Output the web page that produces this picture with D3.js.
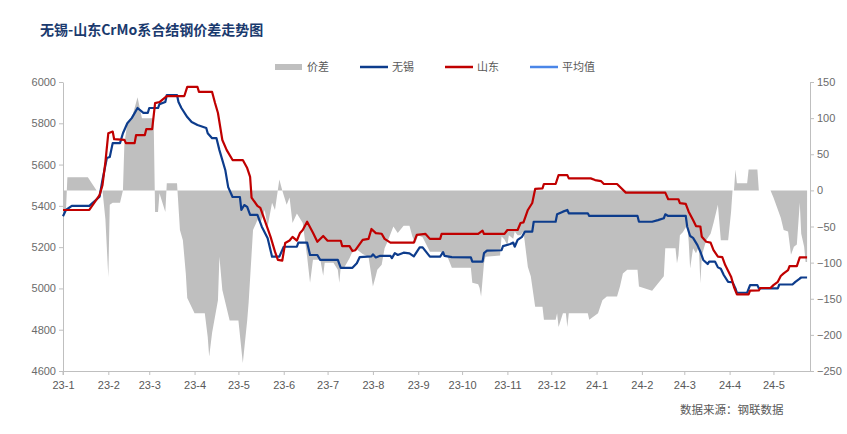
<!DOCTYPE html>
<html>
<head>
<meta charset="utf-8">
<script src="https://cdn.jsdelivr.net/npm/d3@7"></script>
<style>
  body { margin: 0; background: #fff; }
  svg { display: block; font-family: "Liberation Sans", Arial, sans-serif; }
  .tickText text { font-size: 11px; fill: #6b6b6b; }
  .cjk { font-family: "Noto Sans CJK SC", sans-serif; }
</style>
</head>
<body>
<div id="chart"></div>
<script>
//dates + values, one list per series
var wuxiData = [["2023-01-01",5350],["2023-01-03",5380],["2023-01-07",5400],["2023-01-19",5400],["2023-01-26",5444],["2023-01-28",5525],["2023-01-31",5632],["2023-02-02",5637],["2023-02-04",5704],["2023-02-09",5704],["2023-02-11",5752],["2023-02-14",5800],["2023-02-17",5825],["2023-02-19",5849],["2023-02-21",5874],["2023-02-25",5850],["2023-02-28",5850],["2023-03-01",5874],["2023-03-07",5874],["2023-03-08",5893],["2023-03-12",5903],["2023-03-13",5937],["2023-03-20",5937],["2023-03-21",5903],["2023-03-23",5874],["2023-03-27",5830],["2023-03-30",5806],["2023-04-03",5792],["2023-04-09",5777],["2023-04-10",5752],["2023-04-13",5728],["2023-04-16",5728],["2023-04-18",5670],["2023-04-22",5574],["2023-04-24",5491],["2023-04-27",5443],["2023-05-02",5443],["2023-05-03",5380],["2023-05-05",5404],["2023-05-07",5395],["2023-05-09",5356],["2023-05-14",5356],["2023-05-17",5299],["2023-05-21",5243],["2023-05-24",5154],["2023-05-29",5154],["2023-06-01",5202],["2023-06-10",5202],["2023-06-11",5222],["2023-06-17",5222],["2023-06-19",5162],["2023-06-24",5162],["2023-06-26",5138],["2023-07-08",5138],["2023-07-10",5100],["2023-07-18",5100],["2023-07-21",5122],["2023-07-23",5152],["2023-07-31",5155],["2023-08-01",5165],["2023-08-03",5150],["2023-08-06",5158],["2023-08-13",5158],["2023-08-14",5147],["2023-08-16",5171],["2023-08-18",5162],["2023-08-22",5173],["2023-08-26",5170],["2023-08-29",5155],["2023-09-02",5199],["2023-09-04",5199],["2023-09-09",5154],["2023-09-16",5154],["2023-09-18",5176],["2023-09-19",5158],["2023-09-24",5152],["2023-10-07",5150],["2023-10-08",5130],["2023-10-15",5130],["2023-10-16",5171],["2023-10-18",5183],["2023-10-28",5185],["2023-10-29",5205],["2023-11-03",5215],["2023-11-05",5222],["2023-11-06",5202],["2023-11-08",5235],["2023-11-11",5250],["2023-11-13",5275],["2023-11-18",5275],["2023-11-19",5323],["2023-12-04",5323],["2023-12-05",5359],["2023-12-09",5372],["2023-12-12",5380],["2023-12-13",5364],["2023-12-26",5364],["2023-12-27",5351],["2024-01-29",5351],["2024-01-30",5323],["2024-02-08",5323],["2024-02-12",5331],["2024-02-16",5340],["2024-02-17",5359],["2024-02-19",5351],["2024-03-02",5351],["2024-03-03",5299],["2024-03-05",5254],["2024-03-07",5245],["2024-03-10",5210],["2024-03-12",5178],["2024-03-14",5138],["2024-03-17",5118],["2024-03-18",5130],["2024-03-22",5130],["2024-03-24",5102],["2024-03-26",5095],["2024-03-28",5065],["2024-03-31",5032],["2024-04-03",5030],["2024-04-05",5000],["2024-04-06",4979],["2024-04-13",4979],["2024-04-15",5016],["2024-04-20",5016],["2024-04-21",5000],["2024-05-04",5000],["2024-05-05",5019],["2024-05-14",5019],["2024-05-16",5032],["2024-05-19",5048],["2024-05-20",5053],["2024-05-24",5053]];

var shandongData = [["2023-01-01",5380],["2023-01-19",5380],["2023-01-26",5452],["2023-01-28",5500],["2023-01-30",5612],["2023-02-01",5752],["2023-02-04",5760],["2023-02-05",5723],["2023-02-12",5720],["2023-02-13",5704],["2023-02-19",5704],["2023-02-20",5743],["2023-02-26",5743],["2023-02-27",5772],["2023-03-03",5772],["2023-03-05",5898],["2023-03-08",5903],["2023-03-13",5932],["2023-03-25",5932],["2023-03-27",5976],["2023-04-03",5976],["2023-04-04",5952],["2023-04-13",5952],["2023-04-15",5898],["2023-04-17",5850],["2023-04-20",5719],["2023-04-23",5670],["2023-04-27",5622],["2023-05-04",5622],["2023-05-07",5583],["2023-05-09",5540],["2023-05-10",5440],["2023-05-14",5400],["2023-05-16",5390],["2023-05-18",5350],["2023-05-23",5250],["2023-05-26",5178],["2023-05-28",5138],["2023-05-31",5135],["2023-06-02",5220],["2023-06-05",5232],["2023-06-07",5250],["2023-06-10",5232],["2023-06-12",5267],["2023-06-14",5283],["2023-06-17",5323],["2023-06-21",5270],["2023-06-24",5226],["2023-06-28",5254],["2023-07-01",5231],["2023-07-10",5231],["2023-07-11",5205],["2023-07-16",5205],["2023-07-18",5181],["2023-07-20",5185],["2023-07-25",5235],["2023-07-29",5240],["2023-07-31",5288],["2023-08-03",5268],["2023-08-07",5265],["2023-08-09",5240],["2023-08-13",5222],["2023-08-29",5222],["2023-08-31",5259],["2023-09-06",5264],["2023-09-09",5240],["2023-09-16",5240],["2023-09-17",5264],["2023-10-12",5264],["2023-10-15",5280],["2023-10-16",5264],["2023-10-30",5264],["2023-11-01",5283],["2023-11-08",5283],["2023-11-10",5317],["2023-11-12",5320],["2023-11-15",5380],["2023-11-18",5414],["2023-11-20",5482],["2023-11-25",5485],["2023-11-26",5506],["2023-12-04",5506],["2023-12-06",5549],["2023-12-12",5549],["2023-12-13",5533],["2023-12-28",5533],["2023-12-31",5525],["2024-01-04",5520],["2024-01-06",5506],["2024-01-15",5506],["2024-01-21",5464],["2024-02-17",5464],["2024-02-19",5432],["2024-02-26",5432],["2024-02-27",5413],["2024-03-02",5410],["2024-03-04",5372],["2024-03-07",5331],["2024-03-09",5302],["2024-03-12",5300],["2024-03-13",5250],["2024-03-16",5226],["2024-03-19",5222],["2024-03-21",5186],["2024-03-24",5154],["2024-03-27",5152],["2024-03-29",5113],["2024-04-02",5057],["2024-04-04",5007],["2024-04-06",4971],["2024-04-14",4971],["2024-04-15",4989],["2024-04-21",4990],["2024-04-22",5002],["2024-04-29",5002],["2024-05-01",5016],["2024-05-04",5032],["2024-05-06",5060],["2024-05-08",5073],["2024-05-11",5089],["2024-05-12",5108],["2024-05-17",5108],["2024-05-19",5150],["2024-05-24",5150]];

var spreadData = [["2023-01-01",-30],["2023-01-03",-30],["2023-01-04",18],["2023-01-18",18],["2023-01-24",0],["2023-01-28",0],["2023-01-30",-40],["2023-02-01",-120],["2023-02-02",-20],["2023-02-04",-17],["2023-02-09",-17],["2023-02-11",0],["2023-02-12",65],["2023-02-14",93],["2023-02-17",100],["2023-02-19",114],["2023-02-21",129],["2023-02-24",100],["2023-03-04",100],["2023-03-05",-30],["2023-03-07",-30],["2023-03-08",-4],["2023-03-12",-30],["2023-03-13",10],["2023-03-20",10],["2023-03-22",-55],["2023-03-24",-69],["2023-03-26",-115],["2023-03-27",-149],["2023-04-01",-170],["2023-04-08",-170],["2023-04-10",-203],["2023-04-11",-230],["2023-04-13",-197],["2023-04-17",-152],["2023-04-18",-92],["2023-04-20",-138],["2023-04-25",-180],["2023-05-01",-180],["2023-05-04",-239],["2023-05-07",-180],["2023-05-08",-155],["2023-05-11",-55],["2023-05-14",-41],["2023-05-16",-45],["2023-05-19",-27],["2023-05-21",-50],["2023-05-24",-17],["2023-05-26",-27],["2023-05-29",15],["2023-05-31",0],["2023-06-03",-20],["2023-06-05",-10],["2023-06-07",-45],["2023-06-10",-32],["2023-06-14",-45],["2023-06-17",-92],["2023-06-19",-128],["2023-06-21",-96],["2023-06-26",-96],["2023-06-28",-118],["2023-06-29",-100],["2023-07-05",-100],["2023-07-08",-110],["2023-07-09",-128],["2023-07-10",-106],["2023-07-12",-108],["2023-07-16",-94],["2023-07-18",-85],["2023-07-21",-82],["2023-07-25",-88],["2023-07-29",-92],["2023-07-31",-119],["2023-08-01",-133],["2023-08-03",-118],["2023-08-04",-110],["2023-08-07",-103],["2023-08-09",-80],["2023-08-11",-71],["2023-08-15",-50],["2023-08-18",-59],["2023-08-22",-49],["2023-08-26",-49],["2023-08-28",-64],["2023-08-30",-73],["2023-09-01",-62],["2023-09-04",-65],["2023-09-09",-85],["2023-09-16",-85],["2023-09-18",-88],["2023-09-21",-92],["2023-09-24",-107],["2023-10-07",-107],["2023-10-08",-128],["2023-10-12",-130],["2023-10-13",-135],["2023-10-14",-147],["2023-10-16",-101],["2023-10-17",-92],["2023-10-27",-90],["2023-10-28",-64],["2023-10-30",-68],["2023-11-01",-76],["2023-11-02",-62],["2023-11-05",-67],["2023-11-06",-57],["2023-11-08",-62],["2023-11-10",-62],["2023-11-12",-57],["2023-11-15",-106],["2023-11-17",-119],["2023-11-20",-161],["2023-11-25",-161],["2023-11-26",-179],["2023-12-04",-179],["2023-12-05",-170],["2023-12-06",-189],["2023-12-09",-170],["2023-12-11",-170],["2023-12-12",-189],["2023-12-13",-170],["2023-12-26",-170],["2023-12-27",-179],["2024-01-02",-170],["2024-01-05",-152],["2024-01-08",-147],["2024-01-15",-147],["2024-01-17",-133],["2024-01-19",-115],["2024-01-22",-110],["2024-01-29",-110],["2024-01-30",-133],["2024-02-08",-139],["2024-02-16",-119],["2024-02-17",-80],["2024-02-24",-80],["2024-02-25",-101],["2024-02-26",-90],["2024-02-27",-62],["2024-02-29",-58],["2024-03-03",-48],["2024-03-04",-70],["2024-03-05",-108],["2024-03-07",-80],["2024-03-09",-87],["2024-03-11",-78],["2024-03-12",-129],["2024-03-13",-90],["2024-03-16",-69],["2024-03-19",-60],["2024-03-21",-45],["2024-03-24",-20],["2024-03-26",-69],["2024-03-31",-69],["2024-04-02",-30],["2024-04-03",0],["2024-04-04",0],["2024-04-05",29],["2024-04-06",10],["2024-04-13",10],["2024-04-14",29],["2024-04-20",29],["2024-04-21",0],["2024-04-29",0],["2024-05-01",-10],["2024-05-06",-38],["2024-05-08",-55],["2024-05-11",-57],["2024-05-12",-73],["2024-05-13",-89],["2024-05-15",-78],["2024-05-17",-75],["2024-05-19",-17],["2024-05-20",-60],["2024-05-22",-78],["2024-05-23",-99],["2024-05-24",-99]];

var leftTicks = [4600, 4800, 5000, 5200, 5400, 5600, 5800, 6000];
var rightTicks = [-250, -200, -150, -100, -50, 0, 50, 100, 150];
var legendNames = ["价差", "无锡", "山东", "平均值"];
var legendColors = ["#bfbfbf", "#0d3c8c", "#c00000", "#4a86e8"];

var svgWidth = 847;
var svgHeight = 434;
var plot = { left: 63, right: 810, top: 82, bottom: 371 };

var parseDate = d3.timeParse("%Y-%m-%d");
function toPoints(arr) {
  return arr.map(d => ({ date: parseDate(d[0]), value: d[1] }));
}
var wuxi = toPoints(wuxiData);
var shandong = toPoints(shandongData);
var spread = toPoints(spreadData);

var svg = d3.select("#chart")
  .append("svg")
  .attr("width", svgWidth)
  .attr("height", svgHeight);

//scales
var xScale = d3.scaleTime()
  .domain([new Date(2023, 0, 1), new Date(2024, 4, 26)])
  .range([plot.left, plot.right]);

var yLeft = d3.scaleLinear()
  .domain([4600, 6000])
  .range([plot.bottom, plot.top]);

var yRight = d3.scaleLinear()
  .domain([-250, 150])
  .range([plot.bottom, plot.top]);

//spread area (behind the lines)
var area = d3.area()
  .x(d => xScale(d.date))
  .y0(yRight(0))
  .y1(d => yRight(d.value));

svg.append("path")
  .datum(spread)
  .attr("fill", "#bfbfbf")
  .attr("d", area);

//axes
var monthTicks = d3.timeMonth.range(new Date(2023, 0, 1), new Date(2024, 4, 2));

var bottomAxis = d3.axisBottom(xScale)
  .tickValues(monthTicks)
  .tickFormat(d3.timeFormat("%y-%-m"))
  .tickSize(4)
  .tickSizeOuter(0)
  .tickPadding(6);

var leftAxis = d3.axisLeft(yLeft)
  .tickValues(leftTicks)
  .tickFormat(d3.format("d"))
  .tickSize(4)
  .tickSizeOuter(0)
  .tickPadding(3);

var rightAxis = d3.axisRight(yRight)
  .tickValues(rightTicks)
  .tickSize(4)
  .tickSizeOuter(0)
  .tickPadding(3);

var gx = svg.append("g")
  .attr("class", "tickText")
  .attr("transform", `translate(0, ${plot.bottom})`)
  .call(bottomAxis);

var gl = svg.append("g")
  .attr("class", "tickText")
  .attr("transform", `translate(${plot.left}, 0)`)
  .call(leftAxis);

var gr = svg.append("g")
  .attr("class", "tickText")
  .attr("transform", `translate(${plot.right}, 0)`)
  .call(rightAxis);

[gx, gl, gr].forEach(g => {
  g.select(".domain").attr("stroke", "#bfbfbf");
  g.selectAll(".tick line").attr("stroke", "#bfbfbf");
  g.selectAll("text").style("font-family", "'Liberation Sans', Arial, sans-serif");
});
gx.selectAll("text").style("fill", "#595959");

//left axis runs a little past the bottom axis, like the original
gl.append("line")
  .attr("x1", 0).attr("x2", 0)
  .attr("y1", plot.bottom).attr("y2", plot.bottom + 4)
  .attr("stroke", "#bfbfbf");

//price lines
var line = d3.line()
  .x(d => xScale(d.date))
  .y(d => yLeft(d.value));

svg.append("path")
  .datum(wuxi)
  .attr("fill", "none")
  .attr("stroke", legendColors[1])
  .attr("stroke-width", 2.2)
  .attr("stroke-linejoin", "round")
  .attr("d", line);

svg.append("path")
  .datum(shandong)
  .attr("fill", "none")
  .attr("stroke", legendColors[2])
  .attr("stroke-width", 2.2)
  .attr("stroke-linejoin", "round")
  .attr("d", line);

//title
svg.append("text")
  .attr("class", "cjk")
  .attr("x", 40)
  .attr("y", 35)
  .attr("font-size", 14)
  .attr("font-weight", "bold")
  .attr("fill", "#1a3a6e")
  .text("无锡-山东CrMo系合结钢价差走势图");

//legend
var legendX = [275, 360, 445, 530];
var legend = svg.selectAll(".legendItem")
  .data(legendNames)
  .enter()
  .append("g")
  .attr("transform", (d, i) => `translate(${legendX[i]}, 67)`);

legend.each(function(d, i) {
  var g = d3.select(this);
  if (i === 0) {
    g.append("rect").attr("x", 0).attr("y", -3).attr("width", 27).attr("height", 6)
      .attr("fill", legendColors[0]);
  } else {
    g.append("line").attr("x1", 0).attr("x2", 28).attr("y1", 0).attr("y2", 0)
      .attr("stroke", legendColors[i]).attr("stroke-width", 2.5);
  }
  g.append("text")
    .attr("class", "cjk")
    .attr("x", 32)
    .attr("y", 4)
    .attr("font-size", 11)
    .attr("fill", "#595959")
    .text(d);
});

//source note
svg.append("text")
  .attr("class", "cjk")
  .attr("x", 680)
  .attr("y", 414)
  .attr("font-size", 11.5)
  .attr("fill", "#595959")
  .text("数据来源：钢联数据");
</script>
</body>
</html>
